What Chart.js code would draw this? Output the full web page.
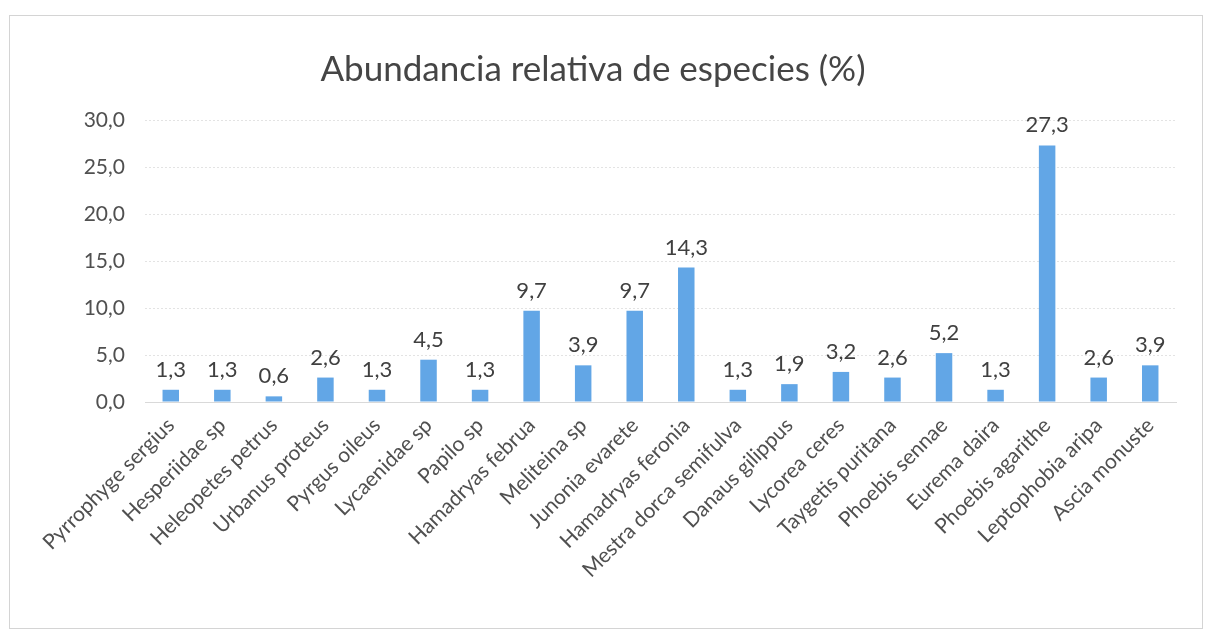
<!DOCTYPE html>
<html><head><meta charset="utf-8">
<script src="https://cdn.jsdelivr.net/npm/chart.js@4/dist/chart.umd.min.js"></script>
<style>
html,body{margin:0;padding:0;background:#fff;width:1205px;height:636px;overflow:hidden}
#box{position:absolute;left:9px;top:15px;width:1194px;height:614px;border:1px solid #d4d4d4;box-sizing:border-box}
canvas{display:block}
</style></head><body>
<div id="box"><canvas id="c"></canvas></div>
<script>
const categories = ["Pyrrophyge sergius","Hesperiidae sp","Heleopetes petrus","Urbanus proteus","Pyrgus oileus","Lycaenidae sp","Papilo sp","Hamadryas februa","Meliteina sp","Junonia evarete","Hamadryas feronia","Mestra dorca semifulva","Danaus gilippus","Lycorea ceres","Taygetis puritana","Phoebis sennae","Eurema daira","Phoebis agarithe","Leptophobia aripa","Ascia monuste"];
const values = [1.3,1.3,0.6,2.6,1.3,4.5,1.3,9.7,3.9,9.7,14.3,1.3,1.9,3.2,2.6,5.2,1.3,27.3,2.6,3.9];
const yTicks = [0,5,10,15,20,25,30];
const titleText = "Abundancia relativa de especies (%)";

const fmt = v => v.toFixed(1).replace('.', ',');
const FONT = "Lato, 'Open Sans', sans-serif";

const labelPlugin = {
  id: 'valueLabels',
  afterDatasetsDraw(chart) {
    const ctx = chart.ctx;
    const meta = chart.getDatasetMeta(0);
    ctx.save();
    ctx.font = "22px " + FONT;
    ctx.fillStyle = "#404040";
    ctx.textAlign = "center";
    ctx.textBaseline = "bottom";
    meta.data.forEach((bar, i) => {
      ctx.fillText(fmt(values[i]), bar.x, bar.y - 9);
    });
    ctx.restore();
  }
};

new Chart(document.getElementById('c'), {
  type: 'bar',
  data: {
    labels: categories,
    datasets: [{
      data: values,
      backgroundColor: '#62a6e6',
      barPercentage: 0.64,
      categoryPercentage: 0.5
    }]
  },
  options: {
    responsive: true,
    maintainAspectRatio: false,
    animation: false,
    layout: { padding: { left: 0, right: 26, top: 0, bottom: 12 } },
    plugins: {
      legend: { display: false },
      tooltip: { enabled: false },
      title: {
        display: true,
        text: titleText,
        color: '#454545',
        font: { family: FONT, size: 35, weight: 'normal' },
        padding: { top: 33, bottom: 29 }
      }
    },
    scales: {
      x: {
        grid: { display: false },
        border: { color: '#d9d9d9' },
        ticks: {
          color: '#505050',
          font: { family: FONT, size: 21 },
          maxRotation: 45, minRotation: 45,
          autoSkip: false
        },
        afterFit: s => { s.height = 214; }
      },
      y: {
        min: 0, max: 30,
        afterBuildTicks: s => { s.ticks = yTicks.map(v => ({ value: v })); },
        grid: { color: '#e3e3e3', drawTicks: false },
        border: { display: false, dash: [2, 2] },
        ticks: {
          color: '#505050',
          font: { family: FONT, size: 21 },
          padding: 20,
          callback: v => fmt(v)
        },
        afterFit: s => { s.width = 135; }
      }
    }
  },
  plugins: [labelPlugin]
});
</script>
</body></html>
